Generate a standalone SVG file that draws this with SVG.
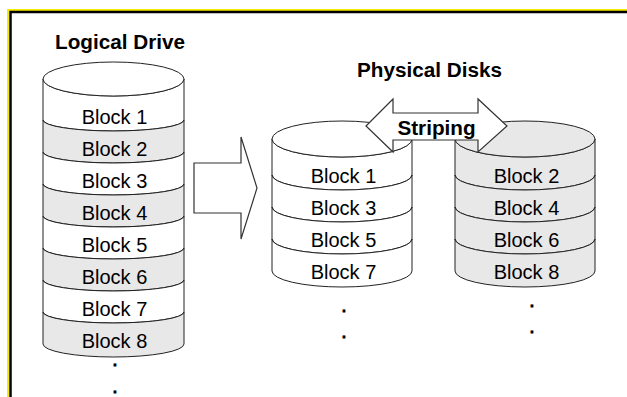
<svg xmlns="http://www.w3.org/2000/svg" width="627" height="397" viewBox="0 0 627 397">
<style>
.t{font-family:"Liberation Sans",Arial,sans-serif;font-size:20px;fill:#000;text-anchor:middle}
.b{font-weight:bold;font-size:20.7px}
.d{font-family:"Liberation Sans",Arial,sans-serif;font-weight:bold;font-size:14px;fill:#000;stroke:#000;stroke-width:0.8;text-anchor:middle}
.w{fill:#fff;stroke:#222;stroke-width:1}
.g{fill:#e8e8e8;stroke:#222;stroke-width:1}
.arr{fill:#fff;stroke:#333;stroke-width:1.2;stroke-linejoin:miter}
</style>
<rect width="627" height="397" fill="#fff"/>
<path d="M8,397 V10 H627" fill="none" stroke="#f5ea00" stroke-width="2"/>
<path d="M10.5,397 V12 H627" fill="none" stroke="#000" stroke-width="2.5"/>

<g id="title-logical"><text class="t b" x="120" y="49">Logical Drive</text></g>
<g id="title-physical"><text class="t b" x="429.5" y="77">Physical Disks</text></g>

<g id="logical-drive">
<path class="w" d="M43,79 A70.5,17 0 0 0 184,79 V120 A70.5,11 0 0 1 43,120 Z"/>
<path class="g" d="M43,120 A70.5,11 0 0 0 184,120 V152 A70.5,11 0 0 1 43,152 Z"/>
<path class="w" d="M43,152 A70.5,11 0 0 0 184,152 V184 A70.5,11 0 0 1 43,184 Z"/>
<path class="g" d="M43,184 A70.5,11 0 0 0 184,184 V216 A70.5,11 0 0 1 43,216 Z"/>
<path class="w" d="M43,216 A70.5,11 0 0 0 184,216 V248 A70.5,11 0 0 1 43,248 Z"/>
<path class="g" d="M43,248 A70.5,11 0 0 0 184,248 V280 A70.5,11 0 0 1 43,280 Z"/>
<path class="w" d="M43,280 A70.5,11 0 0 0 184,280 V312 A70.5,11 0 0 1 43,312 Z"/>
<path class="g" d="M43,312 A70.5,11 0 0 0 184,312 V344 A70.5,13 0 0 1 43,344 Z"/>
<ellipse class="w" cx="113.5" cy="79" rx="70.5" ry="17"/>
<text class="t" x="114.5" y="124">Block 1</text>
<text class="t" x="114.5" y="156">Block 2</text>
<text class="t" x="114.5" y="188">Block 3</text>
<text class="t" x="114.5" y="220">Block 4</text>
<text class="t" x="114.5" y="252">Block 5</text>
<text class="t" x="114.5" y="284">Block 6</text>
<text class="t" x="114.5" y="316">Block 7</text>
<text class="t" x="114.5" y="348">Block 8</text>
<text class="d" x="115" y="366">.</text>
<text class="d" x="115" y="393">.</text>
</g>

<g id="disk-a">
<path class="w" d="M272,139 A70,18 0 0 0 412,139 V175 A70,15 0 0 1 272,175 Z"/>
<path class="w" d="M272,175 A70,15 0 0 0 412,175 V207 A70,15 0 0 1 272,207 Z"/>
<path class="w" d="M272,207 A70,15 0 0 0 412,207 V239 A70,15 0 0 1 272,239 Z"/>
<path class="w" d="M272,239 A70,15 0 0 0 412,239 V271 A70,16 0 0 1 272,271 Z"/>
<ellipse class="w" cx="342" cy="139" rx="70" ry="18"/>
<text class="t" x="343.5" y="183">Block 1</text>
<text class="t" x="343.5" y="215">Block 3</text>
<text class="t" x="343.5" y="247">Block 5</text>
<text class="t" x="343.5" y="279">Block 7</text>
<text class="d" x="344" y="312">.</text>
<text class="d" x="344" y="338">.</text>
</g>

<g id="disk-b">
<path class="g" d="M455,139 A70,18 0 0 0 595,139 V175 A70,15 0 0 1 455,175 Z"/>
<path class="g" d="M455,175 A70,15 0 0 0 595,175 V207 A70,15 0 0 1 455,207 Z"/>
<path class="g" d="M455,207 A70,15 0 0 0 595,207 V239 A70,15 0 0 1 455,239 Z"/>
<path class="g" d="M455,239 A70,15 0 0 0 595,239 V271 A70,16 0 0 1 455,271 Z"/>
<ellipse class="g" cx="525" cy="139" rx="70" ry="18"/>
<text class="t" x="526.5" y="183">Block 2</text>
<text class="t" x="526.5" y="215">Block 4</text>
<text class="t" x="526.5" y="247">Block 6</text>
<text class="t" x="526.5" y="279">Block 8</text>
<text class="d" x="532" y="307">.</text>
<text class="d" x="532" y="333">.</text>
</g>

<g id="connectors">
<polygon class="arr" points="194,163 241,163 241,137 257,188 241,239 241,213 194,213"/>
<polygon class="arr" points="366,126 393,99 393,113 478,113 478,99 507,126 478,152 478,140 393,140 393,152"/>
<text class="t b" x="436.5" y="135">Striping</text>
</g>
</svg>
